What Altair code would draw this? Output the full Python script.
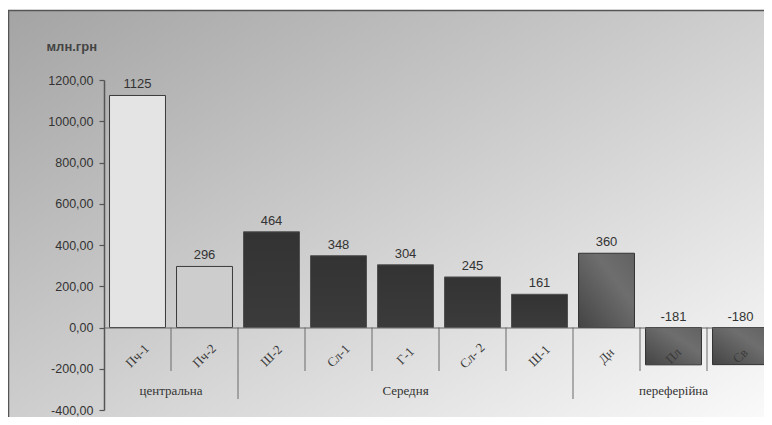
import altair as alt
import pandas as pd

categories = ["Пч-1", "Пч-2", "Ш-2", "Сл-1", "Г-1", "Сл- 2", "Ш-1", "Дн", "Пл", "Св"]
values = [1125, 296, 464, 348, 304, 245, 161, 360, -181, -180]
groups = ["центральна", "центральна", "Середня", "Середня", "Середня",
          "Середня", "Середня", "переферійна", "переферійна", "переферійна"]
y_ticks = [-400, -200, 0, 200, 400, 600, 800, 1000, 1200]
y_title = "млн.грн"

W, H = 660, 330          # visible plot size (page is clipped on the right)
STEP_RANGE = 670         # full band range (last bar runs past the page edge)
ymin, ymax = y_ticks[0], y_ticks[-1]
zero_px = H * (ymax - 0) / (ymax - ymin)

df = pd.DataFrame({"cat": categories, "v": values, "grp": groups})

# separators between categories (long ones at group boundaries)
sep_rows = []
for i in range(1, len(categories)):
    sep_rows.append({"cat": categories[i], "long": groups[i] != groups[i - 1]})
sep_df = pd.DataFrame(sep_rows)

# group label anchors
grp_rows = []
order = []
for g in groups:
    if g not in order:
        order.append(g)
for g in order:
    idx = [i for i, gg in enumerate(groups) if gg == g]
    n = len(idx)
    anchor = categories[idx[0] + n // 2]
    grp_rows.append({"grp": g, "cat": anchor, "odd": n % 2 == 1})
grp_df = pd.DataFrame(grp_rows)

x_axis = alt.Axis(
    title=None, orient="bottom", offset=-(H - zero_px), ticks=False,
    domain=True, domainColor="#666666", domainWidth=1,
    labelAngle=-45, labelAlign="center", labelBaseline="middle",
    labelPadding=28, labelFont="Liberation Serif", labelFontSize=13,
    labelColor="#3a3a3a", zindex=1,
)
x_scale = alt.Scale(domain=categories, paddingInner=0, paddingOuter=0,
                    range=[0, STEP_RANGE])


def xenc(band=None):
    if band is None:
        return alt.X("cat:N", sort=categories, scale=x_scale, axis=x_axis)
    return alt.X("cat:N", sort=categories, scale=x_scale, axis=x_axis, bandPosition=band)


y_scale = alt.Scale(domain=[ymin, ymax], nice=False)
y_axis = alt.Axis(
    values=y_ticks, title=y_title, titleAngle=0, titleAlign="left",
    titleBaseline="middle", titleX=-58, titleY=-34, titleFont="Liberation Sans",
    titleFontSize=13, titleFontWeight="bold", titleColor="#444444",
    labelExpr="(datum.value < 0 ? '-' : '') + replace(format(abs(datum.value), '.2f'), '.', ',')",
    labelFont="Liberation Sans", labelFontSize=12.5, labelColor="#333333",
    labelPadding=6, tickSize=5, tickColor="#555555", tickWidth=1.2,
    domainColor="#555555", domainWidth=1.5, grid=False, zindex=1,
)


def yenc(field):
    return alt.Y(field, scale=y_scale, axis=y_axis)


bg_grad = alt.Gradient(
    gradient="linear", x1=0, y1=0, x2=1, y2=1,
    stops=[alt.GradientStop(color="#a4a4a4", offset=0),
           alt.GradientStop(color="#d0d0d0", offset=0.5),
           alt.GradientStop(color="#fdfdfd", offset=1)],
)
bg = alt.Chart(alt.Data(values=[{"a": 1}])).mark_rect(
    color=bg_grad, stroke="#555555", strokeWidth=1.5
).encode(
    x=alt.value(-95.5), x2=alt.value(W + 20),
    y=alt.value(-69.5), y2=alt.value(H + 30),
)

base = alt.Chart(df)
bw = alt.RelativeBandSize(0.835)

bar1 = base.transform_filter(alt.datum.cat == categories[0]).mark_bar(
    width=bw, color="#e4e4e4", stroke="#3a3a3a", strokeWidth=1
).encode(x=xenc(), y=yenc("v:Q"))
bar2 = base.transform_filter(alt.datum.cat == categories[1]).mark_bar(
    width=bw, color="#cdcdcd", stroke="#3a3a3a", strokeWidth=1
).encode(x=xenc(), y=yenc("v:Q"))
dark_cats = categories[2:7]
bar3 = base.transform_filter(alt.FieldOneOfPredicate(field="cat", oneOf=dark_cats)).mark_bar(
    width=bw,
    color=alt.Gradient(gradient="linear", x1=0, y1=0, x2=0, y2=1,
                       stops=[alt.GradientStop(color="#333333", offset=0),
                              alt.GradientStop(color="#3b3b3b", offset=1)]),
    stroke="#505050", strokeWidth=1,
).encode(x=xenc(), y=yenc("v:Q"))
light_grad = alt.Gradient(
    gradient="linear", x1=0, y1=1, x2=1, y2=0,
    stops=[alt.GradientStop(color="#444444", offset=0),
           alt.GradientStop(color="#6e6e6e", offset=0.65),
           alt.GradientStop(color="#626262", offset=1)],
)
bar4 = base.transform_filter(alt.FieldOneOfPredicate(field="cat", oneOf=categories[7:])).mark_bar(
    width=bw, color=light_grad, stroke="#333333", strokeWidth=1,
).encode(x=xenc(), y=yenc("v:Q"))

val_text = base.transform_calculate(
    ylab="max(datum.v, 0)", lab="'' + datum.v"
).mark_text(
    baseline="bottom", dy=-4, font="Liberation Sans", fontSize=13, color="#333333"
).encode(x=xenc(), y=yenc("ylab:Q"), text="lab:N")

sep_short = alt.Chart(sep_df).transform_filter("!datum.long").mark_rule(
    color="#6a6a6a", strokeWidth=1
).encode(x=xenc(0), y=alt.datum(0), y2=alt.value(291))
sep_long = alt.Chart(sep_df).transform_filter("datum.long").mark_rule(
    color="#6a6a6a", strokeWidth=1
).encode(x=xenc(0), y=alt.datum(0), y2=alt.value(319))

grp_even = alt.Chart(grp_df).transform_filter("!datum.odd").mark_text(
    font="Liberation Serif", fontSize=13, color="#333333", baseline="middle"
).encode(x=xenc(0), y=alt.value(311), text="grp:N")
grp_odd = alt.Chart(grp_df).transform_filter("datum.odd").mark_text(
    font="Liberation Serif", fontSize=13, color="#333333", baseline="middle"
).encode(x=xenc(0.5), y=alt.value(311), text="grp:N")

chart = alt.layer(
    bg, bar1, bar2, bar3, bar4, sep_short, sep_long, val_text, grp_even, grp_odd
).properties(
    width=W, height=H,
    autosize=alt.AutoSizeParams(type="none"),
    padding={"left": 96, "top": 72, "right": 0, "bottom": 7},
    background="white",
).configure_view(stroke=None)

chart.save("out.html", embed_options={"renderer": "svg", "actions": False})
